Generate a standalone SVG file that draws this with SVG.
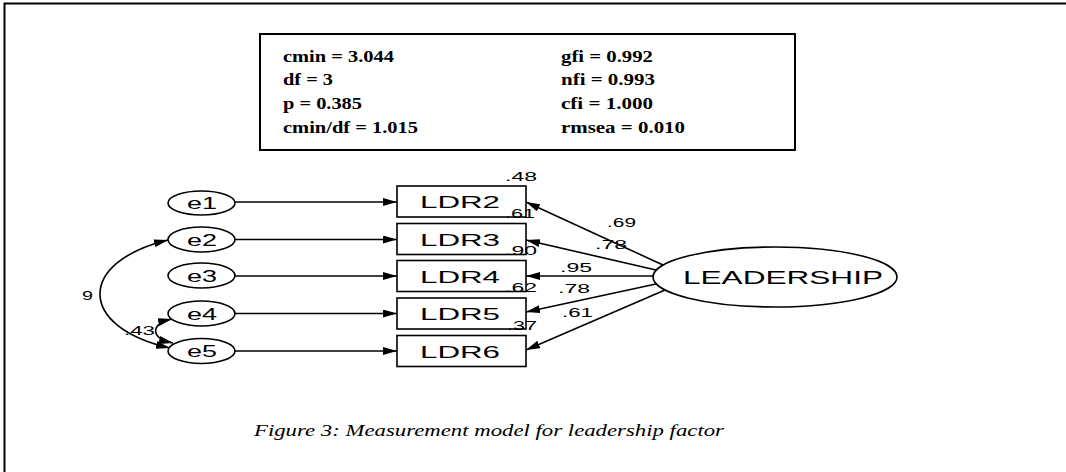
<svg xmlns="http://www.w3.org/2000/svg" width="1066" height="472" viewBox="0 0 1066 472">
<style>
.ln{stroke:#000;stroke-width:1.6;fill:none}
.shape{fill:#fff;stroke:#000;stroke-width:1.6}
.st{font-family:"Liberation Serif","Times New Roman",serif;font-weight:bold;font-size:16px;fill:#000}
.lb{font-family:"Liberation Sans",Arial,sans-serif;font-size:17px;fill:#000}
.num{font-family:"Liberation Sans",Arial,sans-serif;font-size:13px;fill:#000}
.cap{font-family:"Liberation Serif","Times New Roman",serif;font-style:italic;font-size:17px;fill:#000}
</style>
<defs>
<marker id="ah" markerUnits="userSpaceOnUse" markerWidth="14" markerHeight="8" refX="14" refY="4" orient="auto-start-reverse">
<path d="M0,0 L14,4 L0,8 z" fill="#000"/>
</marker>
</defs>
<rect width="1066" height="472" fill="#fff"/>
<path d="M4.5,472 V3.5 H1066" fill="none" stroke="#000" stroke-width="2"/>

<g id="fit-stats">
<rect x="260" y="34" width="535" height="116" fill="#fff" stroke="#000" stroke-width="2"/>
<text class="st" x="283" y="62" textLength="111" lengthAdjust="spacingAndGlyphs">cmin = 3.044</text>
<text class="st" x="283" y="85" textLength="50" lengthAdjust="spacingAndGlyphs">df = 3</text>
<text class="st" x="283" y="109" textLength="79" lengthAdjust="spacingAndGlyphs">p = 0.385</text>
<text class="st" x="283" y="133" textLength="135" lengthAdjust="spacingAndGlyphs">cmin/df = 1.015</text>
<text class="st" x="561" y="62" textLength="92" lengthAdjust="spacingAndGlyphs">gfi = 0.992</text>
<text class="st" x="561" y="85" textLength="94" lengthAdjust="spacingAndGlyphs">nfi = 0.993</text>
<text class="st" x="561" y="109" textLength="92" lengthAdjust="spacingAndGlyphs">cfi = 1.000</text>
<text class="st" x="561" y="133" textLength="124" lengthAdjust="spacingAndGlyphs">rmsea = 0.010</text>
</g>

<g id="connectors">
<line class="ln" x1="235" y1="202" x2="397" y2="202" marker-end="url(#ah)"/>
<line class="ln" x1="235" y1="239.5" x2="397" y2="239.5" marker-end="url(#ah)"/>
<line class="ln" x1="235" y1="276" x2="397" y2="276" marker-end="url(#ah)"/>
<line class="ln" x1="235" y1="313.5" x2="397" y2="313.5" marker-end="url(#ah)"/>
<line class="ln" x1="235" y1="351" x2="397" y2="351" marker-end="url(#ah)"/>
<line class="ln" x1="663" y1="265" x2="526" y2="202" marker-end="url(#ah)"/>
<line class="ln" x1="656" y1="270" x2="526" y2="240" marker-end="url(#ah)"/>
<line class="ln" x1="653" y1="276" x2="526" y2="276" marker-end="url(#ah)"/>
<line class="ln" x1="656" y1="284" x2="526" y2="312" marker-end="url(#ah)"/>
<line class="ln" x1="665" y1="290" x2="526" y2="350" marker-end="url(#ah)"/>
<path class="ln" d="M168,240 C77,262 77,327 170,348" marker-start="url(#ah)" marker-end="url(#ah)"/>
<path class="ln" d="M172,319 C150,324 150,338 173,343" marker-start="url(#ah)" marker-end="url(#ah)"/>
<text class="num" x="82" y="300" textLength="11" lengthAdjust="spacingAndGlyphs">9</text>
<text class="num" x="124" y="335" textLength="31" lengthAdjust="spacingAndGlyphs">.43</text>
<text class="num" x="607" y="227" textLength="29" lengthAdjust="spacingAndGlyphs">.69</text>
<text class="num" x="595" y="249" textLength="32" lengthAdjust="spacingAndGlyphs">.78</text>
<text class="num" x="560" y="272" textLength="32" lengthAdjust="spacingAndGlyphs">.95</text>
<text class="num" x="558" y="293" textLength="32" lengthAdjust="spacingAndGlyphs">.78</text>
<text class="num" x="562" y="317" textLength="31" lengthAdjust="spacingAndGlyphs">.61</text>
</g>

<g id="e1"><ellipse class="shape" cx="201.5" cy="203" rx="33.5" ry="12"/><text class="lb" x="187" y="209" textLength="30" lengthAdjust="spacingAndGlyphs">e1</text></g>
<g id="e2"><ellipse class="shape" cx="201.5" cy="239.5" rx="33.5" ry="12.5"/><text class="lb" x="187" y="245.5" textLength="30" lengthAdjust="spacingAndGlyphs">e2</text></g>
<g id="e3"><ellipse class="shape" cx="201.5" cy="275.5" rx="33.5" ry="12.5"/><text class="lb" x="187" y="281.5" textLength="30" lengthAdjust="spacingAndGlyphs">e3</text></g>
<g id="e4"><ellipse class="shape" cx="201.5" cy="313.5" rx="33.5" ry="12.5"/><text class="lb" x="187" y="319.5" textLength="30" lengthAdjust="spacingAndGlyphs">e4</text></g>
<g id="e5"><ellipse class="shape" cx="201.5" cy="351" rx="33.5" ry="12.5"/><text class="lb" x="187" y="357" textLength="30" lengthAdjust="spacingAndGlyphs">e5</text></g>

<g id="LDR2"><rect class="shape" x="397" y="186" width="129" height="31"/><text class="lb" x="420" y="208" textLength="80" lengthAdjust="spacingAndGlyphs">LDR2</text><text class="num" x="505" y="181" textLength="32" lengthAdjust="spacingAndGlyphs">.48</text></g>
<g id="LDR3"><rect class="shape" x="397" y="223.5" width="129" height="31"/><text class="lb" x="420" y="245.5" textLength="80" lengthAdjust="spacingAndGlyphs">LDR3</text><text class="num" x="505" y="218" textLength="30" lengthAdjust="spacingAndGlyphs">.61</text></g>
<g id="LDR4"><rect class="shape" x="397" y="260.5" width="129" height="31"/><text class="lb" x="420" y="282.5" textLength="80" lengthAdjust="spacingAndGlyphs">LDR4</text><text class="num" x="505" y="255" textLength="32" lengthAdjust="spacingAndGlyphs">.90</text></g>
<g id="LDR5"><rect class="shape" x="397" y="298" width="129" height="31"/><text class="lb" x="420" y="320" textLength="80" lengthAdjust="spacingAndGlyphs">LDR5</text><text class="num" x="505" y="292" textLength="32" lengthAdjust="spacingAndGlyphs">.62</text></g>
<g id="LDR6"><rect class="shape" x="397" y="335.5" width="129" height="31"/><text class="lb" x="420" y="357.5" textLength="80" lengthAdjust="spacingAndGlyphs">LDR6</text><text class="num" x="507" y="329.5" textLength="30" lengthAdjust="spacingAndGlyphs">.37</text></g>

<g id="LEADERSHIP"><ellipse class="shape" cx="775" cy="277" rx="122" ry="30"/><text class="lb" x="683" y="284" textLength="200" lengthAdjust="spacingAndGlyphs" style="font-size:18px">LEADERSHIP</text></g>

<g id="caption"><text class="cap" x="254" y="436" textLength="470" lengthAdjust="spacingAndGlyphs">Figure 3: Measurement model for leadership factor</text></g>
</svg>
